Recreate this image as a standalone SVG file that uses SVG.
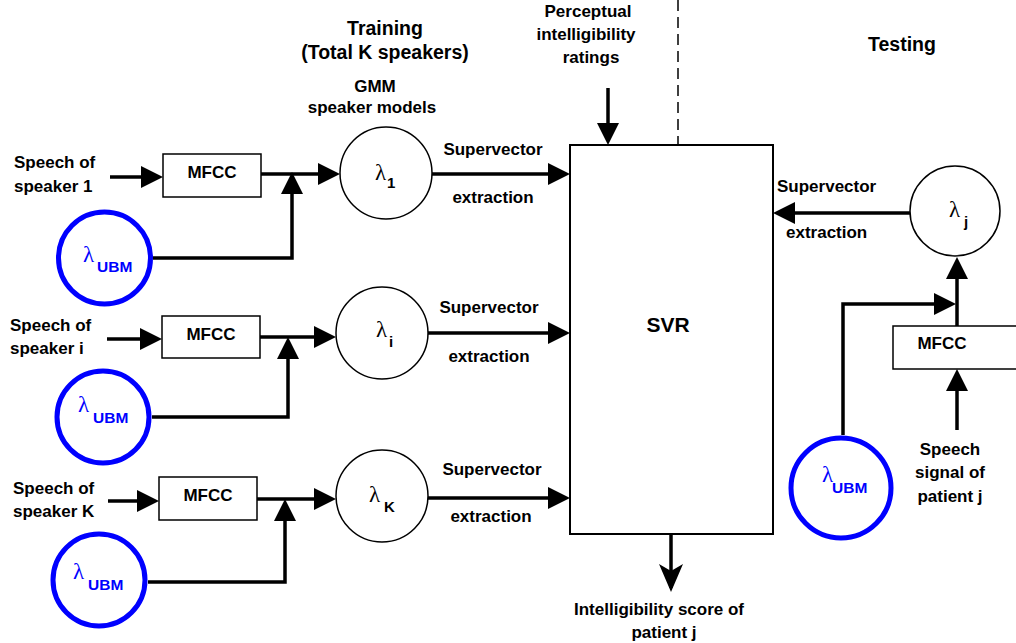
<svg xmlns="http://www.w3.org/2000/svg" width="1016" height="643" viewBox="0 0 1016 643">
  <style>
    text { font-family: "Liberation Sans", Arial, sans-serif; font-weight: bold; fill: #000; }
    .lbl { font-size: 17px; }
    .hdr { font-size: 19.5px; }
    .mid { text-anchor: middle; }
    .lam { font-family: "Liberation Serif", "DejaVu Serif", serif; font-weight: normal; font-size: 23px; }
    .sub { font-size: 15px; }
    .ubm-lam { font-family: "Liberation Serif", "DejaVu Serif", serif; font-weight: normal; font-size: 23px; fill: #0000ff; }
    .ubm-sub { font-size: 15.5px; fill: #0000ff; }
    .box { fill: #fff; stroke: #000; stroke-width: 1.5; }
    .model { fill: #fff; stroke: #000; stroke-width: 1.5; }
    .ubm { fill: #fff; stroke: #0000ff; stroke-width: 5; }
    .wire { fill: none; stroke: #000; stroke-width: 3.5; }
    .arr { marker-end: url(#head); }
  </style>
  <defs>
    <marker id="head" markerUnits="userSpaceOnUse" markerWidth="22" markerHeight="22" refX="18" refY="11" orient="auto">
      <path d="M0,0 L22,11 L0,22 z" fill="#000"/>
    </marker>
    <marker id="notch" markerUnits="userSpaceOnUse" markerWidth="28" markerHeight="24" refX="24" refY="12" orient="auto">
      <path d="M0,0 L28,12 L0,24 L7,12 z" fill="#000"/>
    </marker>
  </defs>

  <rect width="1016" height="643" fill="#fff"/>

  <!-- section headings -->
  <g id="headings">
    <text class="hdr mid" x="385" y="35">Training</text>
    <text class="hdr mid" x="385" y="59">(Total K speakers)</text>
    <text class="lbl mid" x="375" y="92">GMM</text>
    <text class="lbl mid" x="372" y="113">speaker models</text>
    <text class="hdr" x="868" y="51">Testing</text>
  </g>

  <!-- connectors -->
  <g id="connectors">
    <!-- speaker 1 -->
    <path class="wire arr" d="M110,177 H159"/>
    <path class="wire arr" d="M261,174 H336"/>
    <path class="wire arr" d="M153,258 H292 V176"/>
    <path class="wire arr" d="M432,174 H566"/>
    <!-- speaker i -->
    <path class="wire arr" d="M107,339 H158"/>
    <path class="wire arr" d="M260,337 H332"/>
    <path class="wire arr" d="M152,417 H288 V341"/>
    <path class="wire arr" d="M428,333 H566"/>
    <!-- speaker K -->
    <path class="wire arr" d="M108,501 H155"/>
    <path class="wire arr" d="M257,499 H332"/>
    <path class="wire arr" d="M148,582 H285 V503"/>
    <path class="wire arr" d="M428,498 H566"/>
    <!-- ratings in, score out -->
    <path class="wire arr" d="M608,88 V141"/>
    <path class="wire" d="M671,534 V588" marker-end="url(#notch)"/>
    <!-- training / testing divider -->
    <path d="M678,0 V145" fill="none" stroke="#000" stroke-width="1.5" stroke-dasharray="11 6"/>
    <!-- testing branch -->
    <path class="wire arr" d="M910,213 H777"/>
    <path class="wire arr" d="M957,327 V261"/>
    <path class="wire arr" d="M843,435 V304 H952"/>
    <path class="wire arr" d="M957,430 V373"/>
  </g>

  <!-- speaker 1 row -->
  <g id="speech-1">
    <text class="lbl" x="14" y="168">Speech of</text>
    <text class="lbl" x="14" y="192">speaker 1</text>
  </g>
  <g id="mfcc-1">
    <rect class="box" x="163" y="154" width="98" height="43"/>
    <text class="lbl mid" x="212" y="178">MFCC</text>
  </g>
  <g id="ubm-1">
    <circle class="ubm" cx="104.5" cy="258" r="46"/>
    <text class="ubm-lam" x="83" y="262">λ</text>
    <text class="ubm-sub" x="97" y="272">UBM</text>
  </g>
  <g id="model-1">
    <circle class="model" cx="386" cy="173" r="46"/>
    <text class="lam" x="375" y="180">λ</text>
    <text class="sub" x="387" y="188">1</text>
  </g>
  <g id="sv-1">
    <text class="lbl mid" x="493" y="155">Supervector</text>
    <text class="lbl mid" x="493" y="203">extraction</text>
  </g>

  <!-- speaker i row -->
  <g id="speech-i">
    <text class="lbl" x="10" y="331">Speech of</text>
    <text class="lbl" x="10" y="354">speaker i</text>
  </g>
  <g id="mfcc-i">
    <rect class="box" x="162" y="316" width="98" height="42"/>
    <text class="lbl mid" x="211" y="340">MFCC</text>
  </g>
  <g id="ubm-i">
    <circle class="ubm" cx="103" cy="417" r="46"/>
    <text class="ubm-lam" x="78" y="412">λ</text>
    <text class="ubm-sub" x="93" y="423">UBM</text>
  </g>
  <g id="model-i">
    <circle class="model" cx="382" cy="333" r="46"/>
    <text class="lam" x="376" y="337">λ</text>
    <text class="sub" x="389" y="347">i</text>
  </g>
  <g id="sv-i">
    <text class="lbl mid" x="489" y="313">Supervector</text>
    <text class="lbl mid" x="489" y="362">extraction</text>
  </g>

  <!-- speaker K row -->
  <g id="speech-K">
    <text class="lbl" x="13" y="494">Speech of</text>
    <text class="lbl" x="13" y="517">speaker K</text>
  </g>
  <g id="mfcc-K">
    <rect class="box" x="159" y="477" width="98" height="43"/>
    <text class="lbl mid" x="208" y="501">MFCC</text>
  </g>
  <g id="ubm-K">
    <circle class="ubm" cx="99" cy="580" r="46"/>
    <text class="ubm-lam" x="73" y="579">λ</text>
    <text class="ubm-sub" x="88" y="590">UBM</text>
  </g>
  <g id="model-K">
    <circle class="model" cx="382" cy="496" r="46"/>
    <text class="lam" x="369" y="502">λ</text>
    <text class="sub" x="384" y="512">K</text>
  </g>
  <g id="sv-K">
    <text class="lbl mid" x="492" y="475">Supervector</text>
    <text class="lbl mid" x="491" y="522">extraction</text>
  </g>

  <!-- regressor -->
  <g id="ratings">
    <text class="lbl mid" x="588" y="17">Perceptual</text>
    <text class="lbl mid" x="586" y="40">intelligibility</text>
    <text class="lbl mid" x="591" y="63">ratings</text>
  </g>
  <g id="svr">
    <rect x="570" y="145" width="203" height="389" fill="#fff" stroke="#000" stroke-width="2"/>
    <text class="mid" x="668" y="332" style="font-size:21px">SVR</text>
  </g>
  <g id="score">
    <text class="lbl mid" x="659" y="615">Intelligibility score of</text>
    <text class="lbl mid" x="664" y="638">patient j</text>
  </g>

  <!-- testing branch -->
  <g id="sv-j">
    <text class="lbl" x="777" y="192">Supervector</text>
    <text class="lbl" x="786" y="238">extraction</text>
  </g>
  <g id="model-j">
    <circle class="model" cx="955" cy="211" r="45"/>
    <text class="lam" x="949" y="217">λ</text>
    <text class="sub" x="964" y="227">j</text>
  </g>
  <g id="mfcc-j">
    <rect class="box" x="893" y="326" width="140" height="43"/>
    <text class="lbl mid" x="942" y="349">MFCC</text>
  </g>
  <g id="ubm-j">
    <circle class="ubm" cx="841" cy="488" r="50"/>
    <text class="ubm-lam" x="822" y="482">λ</text>
    <text class="ubm-sub" x="832" y="493">UBM</text>
  </g>
  <g id="speech-j">
    <text class="lbl mid" x="950" y="455">Speech</text>
    <text class="lbl mid" x="950" y="478">signal of</text>
    <text class="lbl mid" x="950" y="502">patient j</text>
  </g>
</svg>
